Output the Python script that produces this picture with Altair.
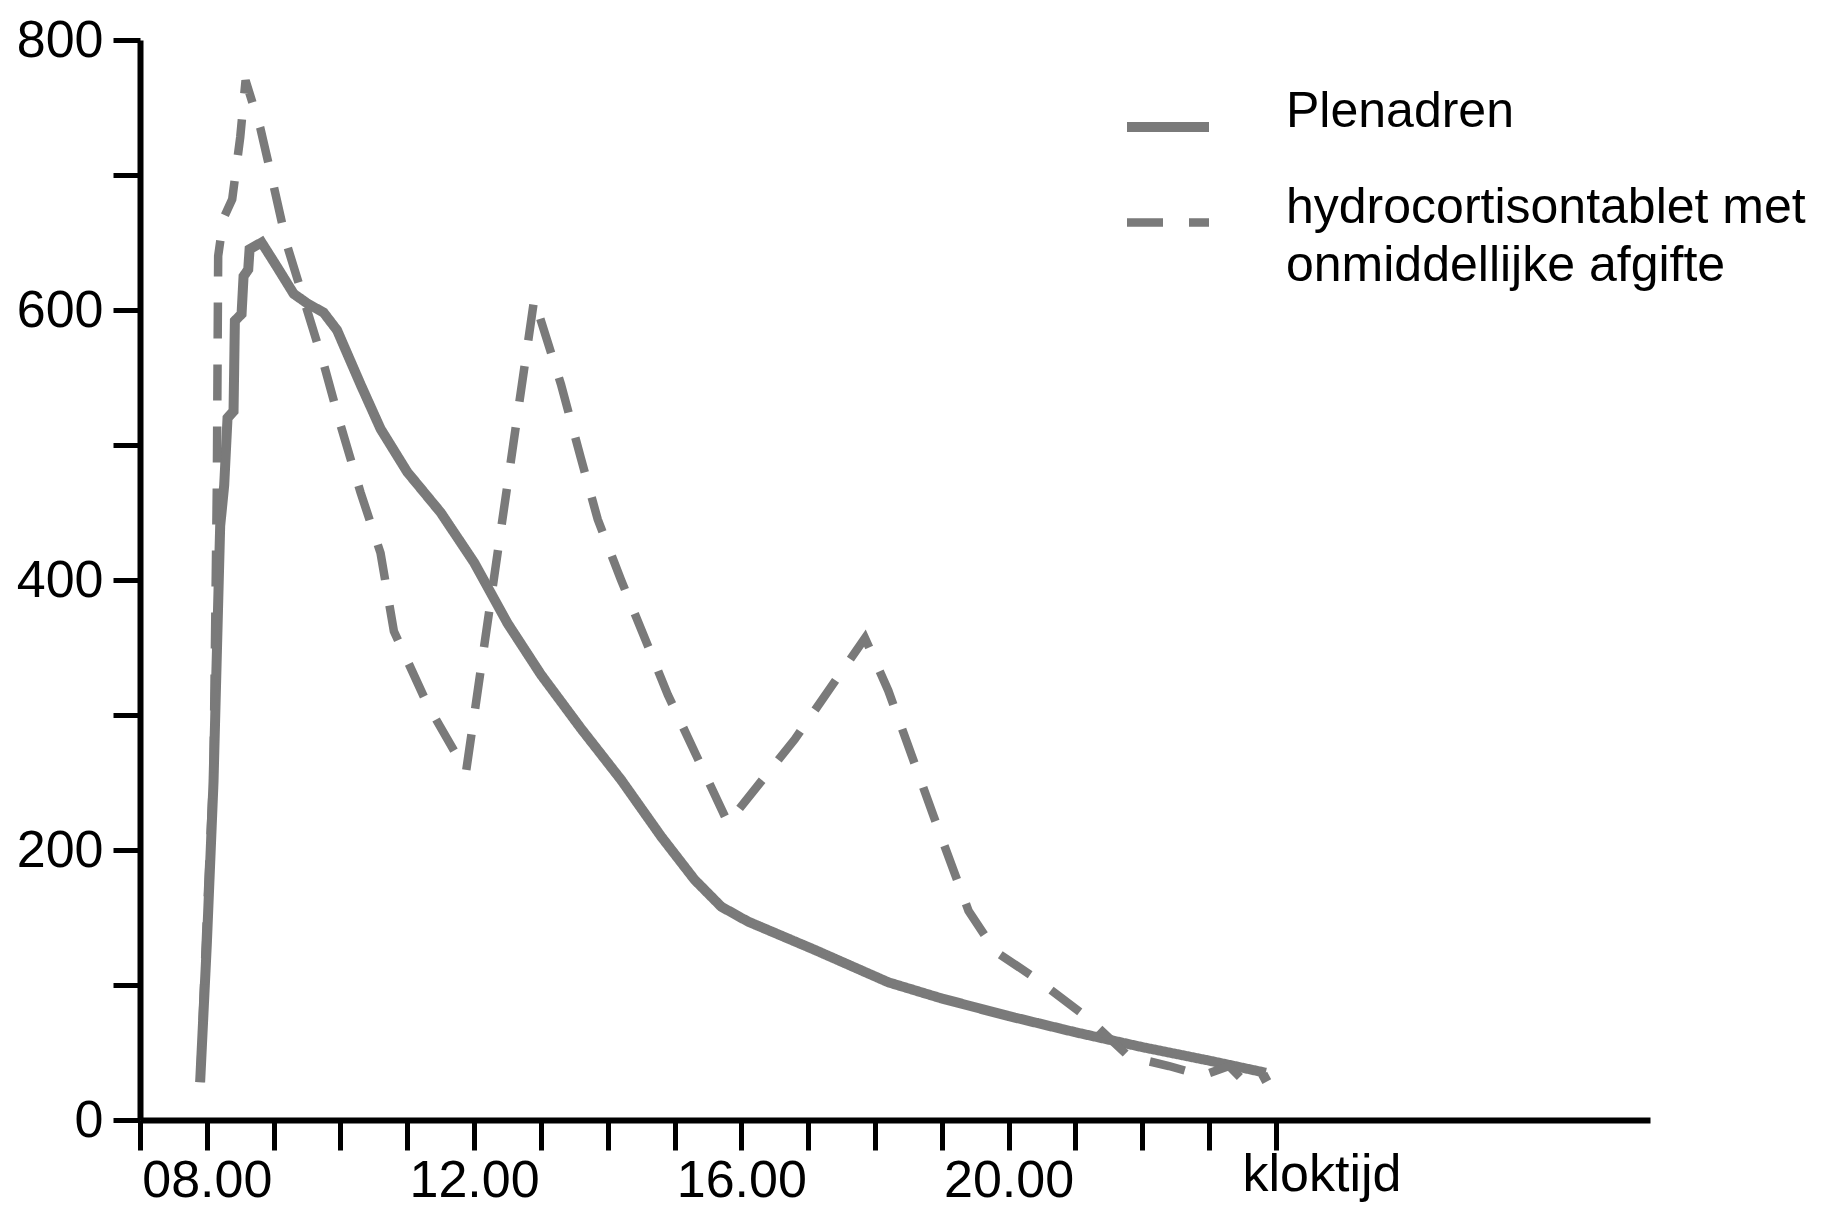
import altair as alt
import pandas as pd

# ---- data ----
plen_name = "Plenadren"
hc_name = "hydrocortisontablet met onmiddellijke afgifte"

plen_hours = [7.90, 8.00, 8.10, 8.20, 8.26, 8.31, 8.40, 8.42, 8.52, 8.55, 8.62, 8.64,
              8.82, 9.05, 9.30, 9.50, 9.75, 9.95, 10.30, 10.60, 11.00, 11.50, 12.00,
              12.50, 13.00, 13.60, 14.20, 14.80, 15.30, 15.70, 16.10, 17.10, 18.20,
              19.00, 20.00, 21.00, 22.00, 23.00, 23.85]
plen_conc = [28, 130, 250, 440, 470, 520, 525, 592, 597, 625, 630, 645,
             650, 632, 612, 605, 598, 585, 545, 512, 480, 450, 413,
             368, 330, 290, 252, 210, 178, 158, 147, 126, 102,
             90, 77, 65, 54, 44, 35]

hc_hours = [7.90, 8.00, 8.10, 8.15, 8.17, 8.25, 8.38, 8.50, 8.58, 8.80, 9.00, 9.20,
            9.50, 9.75, 10.00, 10.30, 10.60, 10.80, 11.30, 11.88, 12.90, 13.30,
            13.60, 13.85, 14.20, 14.90, 15.80, 16.80, 17.85, 18.20, 18.90, 19.40,
            19.80, 20.40, 21.20, 21.80, 22.40, 22.90, 23.30, 23.60, 23.90]
hc_conc = [28, 150, 260, 470, 640, 668, 682, 728, 770, 735, 692, 648,
           600, 560, 515, 465, 420, 362, 308, 258, 608, 545,
           490, 445, 400, 315, 220, 282, 357, 318, 222, 155,
           125, 105, 75, 47, 40, 33, 40, 25, 33]

x_ticks = list(range(7, 25))
x_labels = {8: "08.00", 12: "12.00", 16: "16.00", 20: "20.00"}
y_ticks = list(range(0, 801, 100))
y_labeled = [0, 200, 400, 600, 800]
x_title = "kloktijd"

rows = []
for i, (h, c) in enumerate(zip(plen_hours, plen_conc)):
    rows.append({"uur": h, "conc": c, "reeks": plen_name, "idx": i})
for i, (h, c) in enumerate(zip(hc_hours, hc_conc)):
    rows.append({"uur": h, "conc": c, "reeks": hc_name, "idx": i})
df = pd.DataFrame(rows)

FONT = "Liberation Sans"
GREY = "#7a7a7a"

label_expr = " : ".join(
    [f"datum.value == {k} ? '{v}'" for k, v in x_labels.items()]
) + " : ''"
y_label_expr = "indexof([" + ",".join(str(v) for v in y_labeled) + "], datum.value) >= 0 ? datum.label : ''"
legend_expr = (
    f"datum.label == '{hc_name}' ? ['hydrocortisontablet met', 'onmiddellijke afgifte'] : datum.label"
)

chart = (
    alt.Chart(df)
    .mark_line(color=GREY, strokeCap="butt", strokeJoin="miter")
    .encode(
        x=alt.X(
            "uur:Q",
            scale=alt.Scale(domain=[7, 29.6], nice=False, zero=False),
            axis=alt.Axis(
                values=x_ticks,
                labelExpr=label_expr,
                title=x_title,
                titleX=1102,
                titleY=70,
                titleAlign="left",
                titleBaseline="alphabetic",
                titleFont=FONT,
                titleFontSize=52,
                titleFontWeight="normal",
                titleColor="black",
                tickSize=30,
                labelPadding=5,
                labelOverlap=False,
                labelFlush=False,
            ),
        ),
        y=alt.Y(
            "conc:Q",
            scale=alt.Scale(domain=[0, 800], nice=False),
            axis=alt.Axis(
                values=y_ticks,
                labelExpr=y_label_expr,
                title=None,
                tickSize=27,
                labelPadding=10,
                labelOverlap=False,
                labelFlush=False,
            ),
        ),
        strokeDash=alt.StrokeDash(
            "reeks:N",
            scale=alt.Scale(domain=[plen_name, hc_name], range=[[1, 0], [36, 26]]),
            legend=alt.Legend(
                title=None,
                orient="none",
                legendX=982,
                legendY=41,
                symbolType="stroke",
                symbolSize=6724,
                symbolStrokeWidth=11,
                symbolStrokeColor=GREY,
                labelExpr=legend_expr,
                labelFont=FONT,
                labelFontSize=50,
                labelColor="black",
                labelBaseline="alphabetic",
                labelOffset=72,
                labelLimit=800,
                rowPadding=30,
                padding=0,
            ),
        ),
        strokeWidth=alt.StrokeWidth(
            "reeks:N",
            scale=alt.Scale(domain=[plen_name, hc_name], range=[10, 8.5]),
            legend=None,
        ),
        detail="reeks:N",
        order="idx:Q",
    )
    .properties(
        width=1510,
        height=1080,
        padding={"left": 132, "top": 32, "right": 177, "bottom": 89},
        autosize=alt.AutoSizeParams(type="none"),
    )
    .configure(style={"guide-label": {"lineHeight": 58}})
    .configure_view(stroke=None)
    .configure_axis(
        grid=False,
        domainColor="black",
        domainWidth=6,
        tickColor="black",
        tickWidth=5,
        labelFont=FONT,
        labelFontSize=52,
        labelColor="black",
    )
)

chart.save("out.html", embed_options={"renderer": "svg", "actions": False})
